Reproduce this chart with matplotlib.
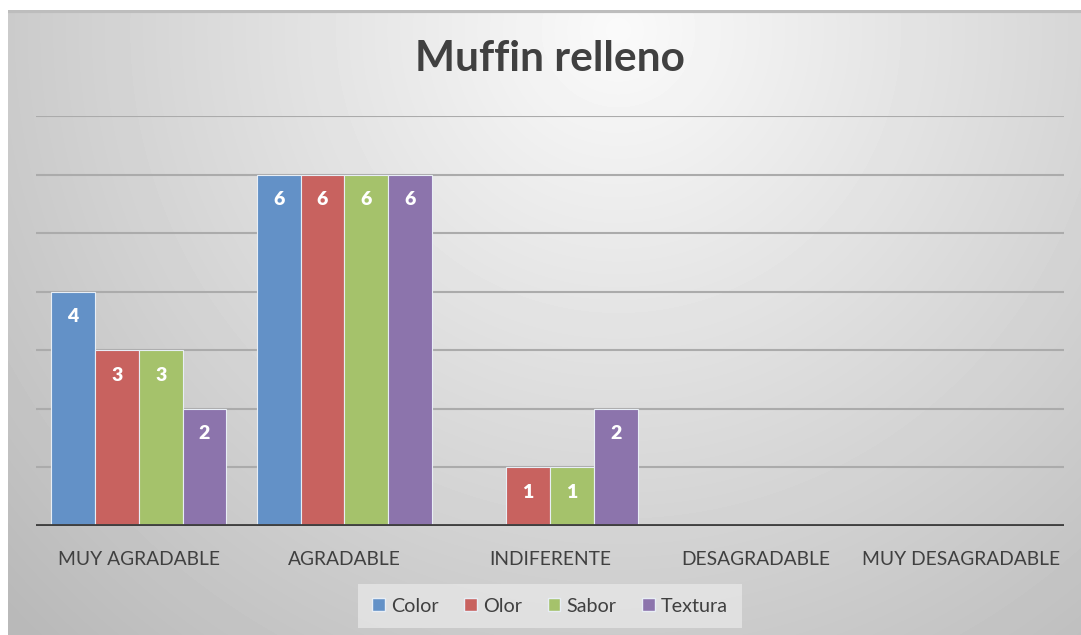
import numpy as np
import matplotlib.pyplot as plt
from matplotlib.patches import Patch

categories = ['MUY AGRADABLE', 'AGRADABLE', 'INDIFERENTE', 'DESAGRADABLE', 'MUY DESAGRADABLE']
series = ['Color', 'Olor', 'Sabor', 'Textura']
color_vals = [4, 6, 0, 0, 0]
olor_vals = [3, 6, 1, 0, 0]
sabor_vals = [3, 6, 1, 0, 0]
textura_vals = [2, 6, 2, 0, 0]
bar_colors = ['#6391C7', '#C8625F', '#A5C26B', '#8C74AC']

W, H = 1081, 635
fig = plt.figure(figsize=(W / 100, H / 100), dpi=100)
fig.patch.set_facecolor('white')

# radial gray background of the chart area
bg = fig.add_axes([8 / W, 0, (W - 8) / W, (H - 10) / H])
bg.set_axis_off()
yy, xx = np.mgrid[0:H - 10, 0:W - 8]
d = np.hypot(xx - 610, yy - 20)
v = np.clip(250 - 62 * d / 800, 185, 250) / 255
bg.imshow(v, cmap='gray', vmin=0, vmax=1, aspect='auto', interpolation='bilinear')
bg.axhline(0, color='#BDBDBD', lw=3)

ax = fig.add_axes([36 / W, (H - 526) / H, 1028 / W, 410 / H])
ax.patch.set_alpha(0)
for s in ax.spines.values():
    s.set_visible(False)

values = [color_vals, olor_vals, sabor_vals, textura_vals]
x = np.arange(len(categories))
bw = 0.213
for i, (name, vals, c) in enumerate(zip(series, values, bar_colors)):
    pos = x + (i - 1.5) * bw
    bars = ax.bar(pos, vals, bw, color=c, edgecolor='#E8EEF5', linewidth=0.8,
                  label=name, zorder=3)
    for b, val in zip(bars, vals):
        if val > 0:
            ax.annotate(str(val), (b.get_x() + b.get_width() / 2, val),
                        xytext=(0, -25), textcoords='offset pixels',
                        ha='center', va='center', color='white',
                        fontsize=14, fontweight='heavy', family='Lato', zorder=4)

ax.set_xlim(-0.5, len(categories) - 0.5)
ax.set_ylim(0, 7)
for g in range(1, 8):
    ax.axhline(g, color='#ABABAB', lw=1.5, zorder=1)
ax.axhline(0, color='#404040', lw=3.5, zorder=5)
ax.set_yticks([])
ax.set_xticks(x)
ax.set_xticklabels(categories, fontsize=13.9, color='#404040', family='Lato')
ax.tick_params(axis='x', length=0, pad=18)

fig.text(550 / W, 1 - 59 / H, 'Muffin relleno', ha='center', va='center',
         fontsize=30.5, fontweight='bold', color='#404040', family='Lato')

handles = [Patch(facecolor=c, edgecolor='#E8EEF5', label=n) for n, c in zip(series, bar_colors)]
leg = fig.legend(handles=handles, loc='center', bbox_to_anchor=(550 / W, 1 - 606 / H),
                 ncol=4, frameon=True, handlelength=0.65, handleheight=0.65,
                 handletextpad=0.3, columnspacing=1.3, borderpad=0.7,
                 prop={'family': 'Lato', 'size': 14.2})
leg.get_frame().set_facecolor('#E6E6E6')
leg.get_frame().set_edgecolor('none')
leg.get_frame().set_alpha(0.8)
leg.get_frame().set_boxstyle('square', pad=0)
for t in leg.get_texts():
    t.set_color('#404040')

fig.savefig('out.png', dpi=100)
